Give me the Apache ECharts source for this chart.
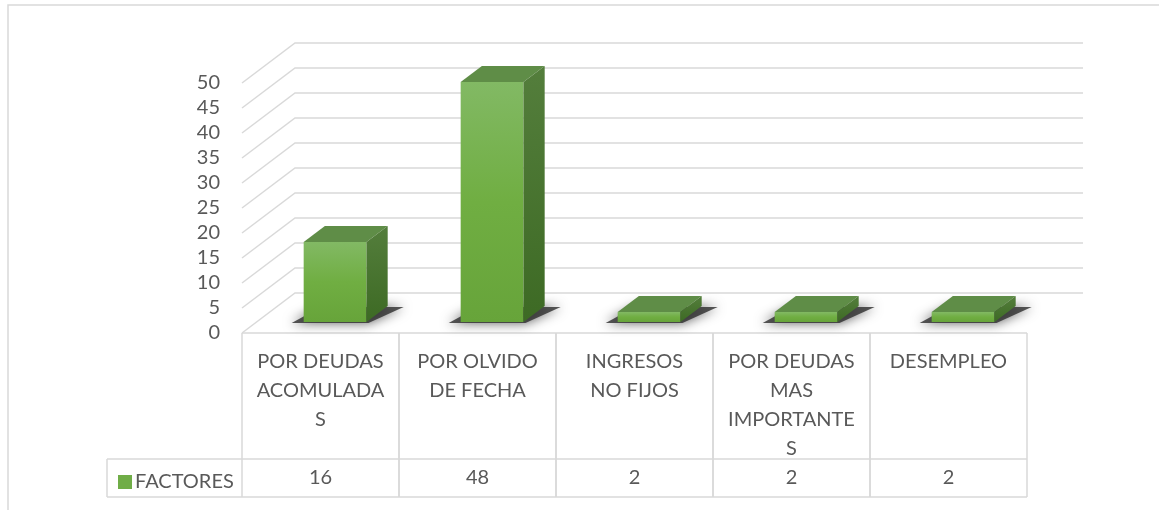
<!DOCTYPE html>
<html>
<head>
<meta charset="utf-8">
<script src="https://cdn.jsdelivr.net/npm/echarts@6/dist/echarts.min.js"></script>
<style>
html,body{margin:0;padding:0;background:#fff;}
#main{width:1159px;height:510px;}
</style>
</head>
<body>
<div id="main"></div>
<script>
// ---- data ----
const categories = ['POR DEUDAS ACOMULADAS', 'POR OLVIDO DE FECHA', 'INGRESOS NO FIJOS', 'POR DEUDAS MAS IMPORTANTES', 'DESEMPLEO'];
const categoryLabels = ['POR DEUDAS\nACOMULADA\nS', 'POR OLVIDO\nDE FECHA', 'INGRESOS\nNO FIJOS', 'POR DEUDAS\nMAS\nIMPORTANTE\nS', 'DESEMPLEO'];
const seriesName = 'FACTORES';
const factores = [16, 48, 2, 2, 2];
const yTicks = [0, 5, 10, 15, 20, 25, 30, 35, 40, 45, 50];

// ---- styling / layout constants ----
const FONT = 'Lato, "Open Sans", sans-serif';
const TXT = '#595959';
const LINE = '#d9d9d9';
const DX = 53, DY = -40;          // depth vector front -> back wall
const F1 = 0.275, F2 = 0.675;     // bar depth range
const BAR_W = 0.40;               // fraction of band
const HEADER_H = 126, ROW_H = 38, LEGEND_W = 135;

const chart = echarts.init(document.getElementById('main'));

function gridRender(params, api) {
  const v = api.value(1);
  const p = api.coord([0, v]);
  const bw = api.size([1, 0])[0];
  const xl = p[0] - bw / 2;
  const xr = api.coord([categories.length - 1, v])[0] + bw / 2;
  const style = { stroke: LINE, lineWidth: 1.5, fill: null };
  return {
    type: 'group',
    children: [
      { type: 'polyline', shape: { points: [[xl, p[1]], [xl + DX, p[1] + DY], [xr + DX + 3, p[1] + DY]] }, style: style }
    ]
  };
}

function barRender(params, api) {
  const i = api.value(0), v = api.value(1);
  const c0 = api.coord([i, 0]);
  const c1 = api.coord([i, v]);
  const bw = api.size([1, 0])[0];
  const w = bw * BAR_W;
  const x0 = c0[0] - w / 2 + F1 * DX;
  const x1 = x0 + w;
  const yb = c0[1] + F1 * DY;
  const yt = c1[1] + F1 * DY;
  const ddx = (F2 - F1) * DX, ddy = (F2 - F1) * DY;
  return {
    type: 'group',
    children: [
      { type: 'polygon',
        shape: { points: [[x0 - 12, yb + 1], [x1 + 2, yb + 1], [x1 + ddx + 16, yb + ddy + 1], [x0 + ddx - 4, yb + ddy + 1]] },
        style: { fill: 'rgba(45,45,45,0.8)', shadowBlur: 12, shadowColor: 'rgba(0,0,0,0.8)' } },
      { type: 'rect', shape: { x: x0, y: yt, width: w, height: yb - yt },
        style: { fill: new echarts.graphic.LinearGradient(0, 0, 0, 1, [{ offset: 0, color: '#82b964' }, { offset: 0.5, color: '#70ae42' }, { offset: 1, color: '#67a43a' }]) } },
      { type: 'polygon', shape: { points: [[x0, yt], [x1, yt], [x1 + ddx, yt + ddy], [x0 + ddx, yt + ddy]] },
        style: { fill: '#5f8d47' } },
      { type: 'polygon', shape: { points: [[x1, yt], [x1 + ddx, yt + ddy], [x1 + ddx, yb + ddy], [x1, yb]] },
        style: { fill: new echarts.graphic.LinearGradient(0, 0, 0, 1, [{ offset: 0, color: '#547e3c' }, { offset: 1, color: '#3d6a24' }]) } }
    ]
  };
}

function tableRender(params, api) {
  const i = api.value(0), v = api.value(1);
  const c = api.coord([i, 0]);
  const bw = api.size([1, 0])[0];
  const xl = c[0] - bw / 2, xr = xl + bw;
  const y0 = c[1], y1 = y0 + HEADER_H, y2 = y1 + ROW_H;
  const ls = { stroke: LINE, lineWidth: 1.5 };
  const ch = [
    { type: 'line', shape: { x1: xl, y1: y0, x2: xr, y2: y0 }, style: ls },
    { type: 'line', shape: { x1: xl, y1: y0, x2: xl, y2: y2 }, style: ls },
    { type: 'line', shape: { x1: xr, y1: y0, x2: xr, y2: y2 }, style: ls },
    { type: 'line', shape: { x1: xl, y1: y1, x2: xr, y2: y1 }, style: ls },
    { type: 'line', shape: { x1: xl, y1: y2, x2: xr, y2: y2 }, style: ls },
    { type: 'text', x: c[0], y: (y1 + y2) / 2,
      style: { text: String(v), fill: TXT, font: '20px ' + FONT, align: 'center', verticalAlign: 'middle' } }
  ];
  if (i === 0) {
    const xL = xl - LEGEND_W;
    ch.push(
      { type: 'line', shape: { x1: xL, y1: y1, x2: xl, y2: y1 }, style: ls },
      { type: 'line', shape: { x1: xL, y1: y2, x2: xl, y2: y2 }, style: ls },
      { type: 'line', shape: { x1: xL, y1: y1, x2: xL, y2: y2 }, style: ls }
    );
  }
  return { type: 'group', children: ch };
}

const option = {
  backgroundColor: '#fff',
  animation: false,
  textStyle: { fontFamily: FONT },
  grid: { left: 242, right: 132, top: 83, bottom: 177, containLabel: false },
  legend: {
    data: [seriesName], left: 113, top: 467, icon: 'rect', itemWidth: 14, itemHeight: 14, itemGap: 6,
    textStyle: { fontSize: 20, color: TXT, fontFamily: FONT, padding: [0, 0, 0, -2] }
  },
  graphic: [
    { type: 'rect', shape: { x: 8, y: 5, width: 1200, height: 600 }, style: { fill: null, stroke: LINE, lineWidth: 1.5 }, silent: true, z: -10 }
  ],
  xAxis: {
    type: 'category', data: categories,
    axisLine: { show: false }, axisTick: { show: false }, splitLine: { show: false },
    axisLabel: {
      interval: 0, margin: 14, fontSize: 20, color: TXT, lineHeight: 29, fontFamily: FONT,
      verticalAlign: 'top',
      formatter: function (val, idx) { return categoryLabels[idx]; }
    }
  },
  yAxis: {
    type: 'value', min: 0, max: 50, interval: 5,
    axisLine: { show: false }, axisTick: { show: false }, splitLine: { show: false },
    axisLabel: { fontSize: 20, color: TXT, margin: 22, fontFamily: FONT }
  },
  series: [
    { type: 'custom', name: 'grid3d', renderItem: gridRender, data: yTicks.map(v => [0, v]), encode: { x: 0, y: 1 }, z: 1, silent: true },
    { type: 'custom', name: 'table', renderItem: tableRender, data: factores.map((v, i) => [i, v]), encode: { x: 0, y: 1 }, z: 2, silent: true },
    { type: 'custom', name: seriesName, renderItem: barRender, data: factores.map((v, i) => [i, v]), encode: { x: 0, y: 1 }, z: 3, itemStyle: { color: '#70ad47' } }
  ]
};
chart.setOption(option);
</script>
</body>
</html>
